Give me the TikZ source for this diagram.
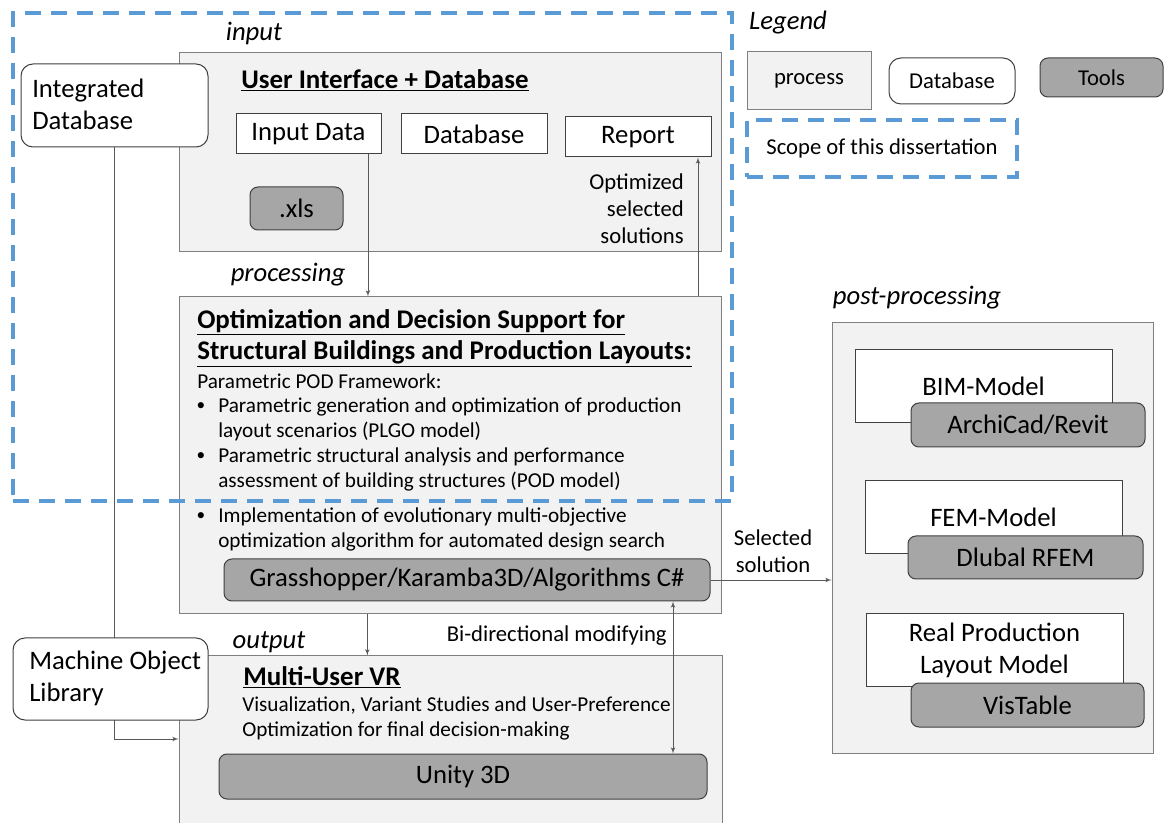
\documentclass[tikz,border=0pt]{standalone}
\usepackage{fontspec}
\setmainfont{Carlito}
\usetikzlibrary{arrows}

\definecolor{procfill}{HTML}{F2F2F2}
\definecolor{procline}{HTML}{7F7F7F}
\definecolor{boxline}{HTML}{404040}
\definecolor{toolfill}{HTML}{A6A6A6}
\definecolor{scopeblue}{HTML}{5B9BD5}
\definecolor{edgegray}{HTML}{595959}

\newcommand{\fntbox}{\fontsize{20}{24}\selectfont}
\newcommand{\fnttitle}{\fontsize{20.2}{23.25}\selectfont\bfseries}
\newcommand{\fntbody}{\fontsize{15.9}{18.75}\selectfont}
\newcommand{\fntdot}{\fontsize{13}{18.75}\selectfont}
\newcommand{\fntnote}{\fontsize{17}{20.25}\selectfont}
\newcommand{\fntstage}{\fontsize{20}{24}\selectfont\itshape}
\newcommand{\fntlegend}{\fontsize{17}{20}\selectfont}

\begin{document}
\begin{tikzpicture}[x=0.75pt,y=-0.75pt]
            \tikzset{wh/.style 2 args = {minimum width=#1*0.75pt, minimum height=#2*0.75pt}}
            \tikzset{process/.style = {draw=procline, fill=procfill, line width=0.75pt, inner sep=0pt}}
            \tikzset{plainbox/.style = {draw=boxline, fill=white, line width=0.75pt, inner sep=0pt, font=\fntbox}}
            \tikzset{database/.style = {plainbox, rounded corners=9pt}}
            \tikzset{tool/.style = {draw=boxline, fill=toolfill, line width=0.75pt, rounded corners=6pt, inner sep=0pt, font=\fntbox}}
            \tikzset{stage/.style = {inner sep=0pt, font=\fntstage}}
            \tikzset{txt/.style = {inner sep=0pt, align=left}}
            \tikzset{scope/.style = {draw=scopeblue, line width=2.3pt, dash pattern=on 12pt off 7.5pt, inner sep=0pt}}
            \tikzset{edge/.style = {->, > = latex', draw=edgegray, line width=0.6pt}}
            \tikzset{dedge/.style = {<->, > = latex', draw=edgegray, line width=0.6pt}}

            \useasboundingbox (0,0) rectangle (1165,823);

            % legend
            \node[stage] (legend) at (788,23) {Legend};
            \node[process, wh={124}{58}, font=\fntlegend] (legproc) at (809,81) {process};
            \node[database, wh={126}{46}, font=\fntlegend] (legdb) at (952,81) {Database};
            \node[tool, wh={123}{39}, font=\fntlegend] (legtool) at (1101.5,77.5) {Tools};
            \node[scope, wh={270}{57}, font=\fntlegend] (legscope) at (882,148.5) {Scope of this dissertation};

            % input
            \node[stage] (lblinput) at (254,33) {input};
            \node[process, wh={542}{199}] (ui) at (450,152.5) {};
            \node[txt, anchor=west, font=\fnttitle] (uititle) at (241,80) {\underline{User Interface + Database}};
            \node[plainbox, wh={145}{40}] (indata) at (308.5,134) {Input Data};
            \node[plainbox, wh={146}{40}] (db) at (474,134) {Database};
            \node[plainbox, wh={146}{40}] (report) at (638,137) {Report};
            \node[tool, wh={93}{43}] (xls) at (296.5,208.5) {.xls};
            \node[txt, align=right, anchor=east, font=\fntnote] (optsel) at (684,209) {Optimized\\selected\\solutions};

            \node[database, wh={187}{83}] (intdb) at (114.5,105.5) {};
            \node[txt, anchor=west, font=\fntbox] (intdbtxt) at (32,104) {Integrated\\Database};

            % processing
            \node[stage] (lblproc) at (288,275) {processing};
            \node[process, wh={542}{317}] (proc) at (450,455.5) {};
            \node[txt, anchor=west, font=\fnttitle] (proctitle) at (197,338) {\underline{Optimization and Decision Support for}\\\underline{Structural Buildings and Production Layouts:}};
            \node[txt, anchor=west, font=\fntbody] (podlbl) at (197,381) {Parametric POD Framework:};
            \node[txt, font=\fntdot] (dot1) at (201,407) {\textbullet};
            \node[txt, anchor=west, font=\fntbody] (plgo) at (218,419.5) {Parametric generation and optimization of production\\layout scenarios (PLGO model)};
            \node[txt, font=\fntdot] (dot2) at (201,457) {\textbullet};
            \node[txt, anchor=west, font=\fntbody] (pod) at (218,469.5) {Parametric structural analysis and performance\\assessment of building structures (POD model)};
            \node[txt, font=\fntdot] (dot3) at (201,517) {\textbullet};
            \node[txt, anchor=west, font=\fntbody] (evo) at (218,529.5) {Implementation of evolutionary multi-objective\\optimization algorithm for automated design search};
            \node[tool, wh={486}{42}] (gh) at (467,580) {Grasshopper/Karamba3D/Algorithms C\#};

            % output
            \node[stage] (lblout) at (269,642) {output};
            \node[process, wh={543}{174}] (vr) at (450.5,743) {};
            \node[txt, anchor=west, font=\fnttitle] (vrtitle) at (243,677) {\underline{Multi-User VR}};
            \node[txt, anchor=west, font=\fntbody] (vrtxt) at (242,718) {Visualization, Variant Studies and User-Preference\\Optimization for final decision-making};
            \node[tool, wh={488}{45}] (unity) at (463,776.5) {Unity 3D};
            \node[txt, anchor=east, font=\fntnote] (bilbl) at (667,636) {Bi-directional modifying};

            \draw[edge] (intdb.south) |- ([yshift=3pt]vr.west);
            \node[database, wh={195}{82}] (mol) at (110.5,679) {};
            \node[txt, anchor=west, font=\fntbox] (moltxt) at (29,678) {Machine Object\\Library};

            % post-processing
            \node[stage] (lblpost) at (917,298) {post-processing};
            \node[process, wh={321}{430}] (post) at (992.5,538) {};
            \node[plainbox, wh={257}{73}] (bim) at (983.5,386.5) {BIM-Model};
            \node[tool, wh={234}{44}] (archicad) at (1028,425) {ArchiCad/Revit};
            \node[plainbox, wh={257}{73}] (fem) at (993.5,517.5) {FEM-Model};
            \node[tool, wh={235}{43}] (rfem) at (1025.5,557.5) {Dlubal RFEM};
            \node[plainbox, wh={257}{72}, align=center] (plm) at (994.5,650) {Real Production\\Layout Model};
            \node[tool, wh={233}{44}] (vistable) at (1027.5,705) {VisTable};
            \node[txt, align=center, font=\fntnote] (sellbl) at (773,551) {Selected\\solution};

            % scope of the dissertation
            \node[scope, wh={719}{488}] (scopebox) at (372.5,257) {};

            \draw[edge] ([xshift=44.6pt]indata.south) -- ([xshift=44.6pt]indata.south |- proc.north);
            \draw[edge] ([xshift=45pt]report.south |- proc.north) -- ([xshift=45pt]report.south);
            \draw[edge] ([xshift=-62pt]proc.south) -- ([xshift=-62pt]proc.south |- vr.north);
            \draw[dedge] ([xshift=154.5pt]gh.south) -- ([xshift=154.5pt]gh.south |- unity.north);
            \draw[edge] (gh.east) -- (gh.east -| post.west);
\end{tikzpicture}
\end{document}
